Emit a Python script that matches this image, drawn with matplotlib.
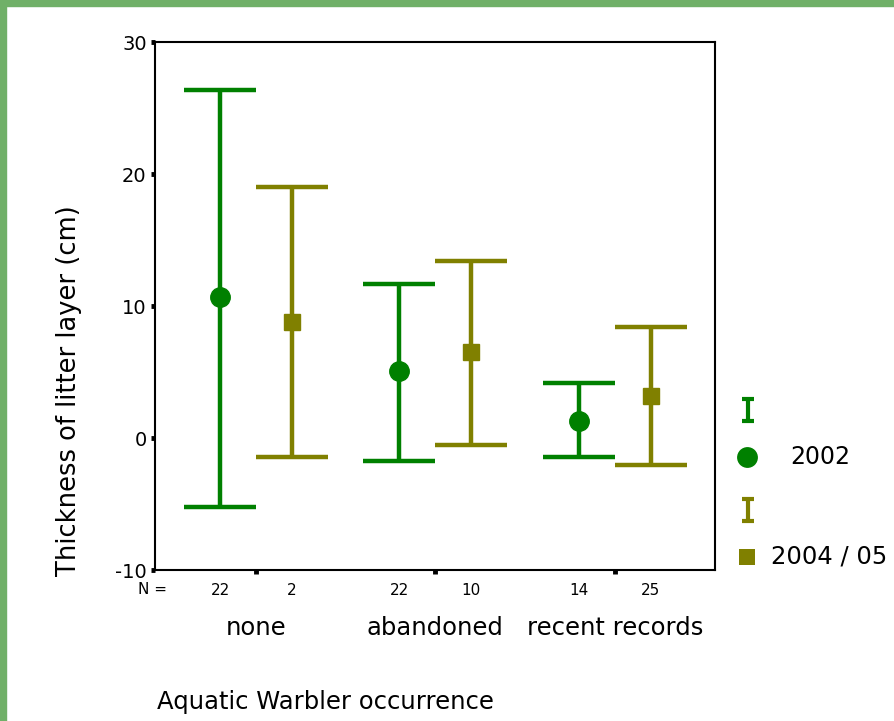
import matplotlib
matplotlib.use('Agg')
import matplotlib.pyplot as plt
from matplotlib.patches import Rectangle

plt.rcParams['axes.unicode_minus'] = False

# group labels and sample sizes
categories = ['none', 'abandoned', 'recent records']
years = ['2002', '2004 / 05']
n_2002 = [22, 22, 14]
n_2004 = [2, 10, 25]

# means with 95% CI bounds (cm)
mean_2002 = [10.66, 5.05, 1.26]
low_2002 = [-5.21, -1.72, -1.42]
high_2002 = [26.38, 11.68, 4.19]

mean_2004 = [8.76, 6.49, 3.15]
low_2004 = [-1.42, -0.56, -2.02]
high_2004 = [19.00, 13.39, 8.39]

GREEN = '#008000'
OLIVE = '#808000'


def draw_group(ax, xs, means, lows, highs, color, marker, msize):
    yerr = [[m - lo for m, lo in zip(means, lows)],
            [hi - m for m, hi in zip(means, highs)]]
    ax.errorbar(xs, means, yerr=yerr, fmt=marker, color=color,
                ecolor=color, elinewidth=3.2, capsize=26, capthick=3.2,
                markersize=msize, markeredgecolor=color, zorder=3)


def main():
    fig = plt.figure(figsize=(8.94, 7.21), dpi=100)
    ax = fig.add_axes([155 / 894, 1 - 570 / 721, 560 / 894, 528 / 721])

    pos = [1, 2, 3]
    off = 0.2
    x02 = [p - off for p in pos]
    x04 = [p + off for p in pos]
    draw_group(ax, x02, mean_2002, low_2002, high_2002, GREEN, 'o', 14)
    draw_group(ax, x04, mean_2004, low_2004, high_2004, OLIVE, 's', 11)

    ax.set_xlim(0.437, 3.559)
    ax.set_ylim(-10, 30)
    ax.set_yticks([-10, 0, 10, 20, 30])
    ax.set_xticks(pos)
    ax.set_xticklabels([])
    ax.tick_params(axis='both', direction='out', length=3, width=3.5,
                   labelsize=14, pad=3)
    for s in ax.spines.values():
        s.set_linewidth(1.5)

    # N labels and category names under the axis
    tr = ax.get_xaxis_transform()
    for x, n in zip(x02 + x04, n_2002 + n_2004):
        ax.text(x, -0.038, str(n), transform=tr, ha='center', va='center',
                fontsize=11)
    for p, c in zip(pos, categories):
        ax.text(p, -0.11, c, transform=tr, ha='center', va='center',
                fontsize=17.5)
    fig.text(153 / 894, 1 - 590 / 721, 'N =', ha='center', va='center',
             fontsize=11)

    fig.text(69 / 894, 1 - 391 / 721, 'Thickness of litter layer (cm)',
             rotation=90, ha='center', va='center', fontsize=18.5)
    fig.text(157 / 894, 1 - 702 / 721, 'Aquatic Warbler occurrence',
             ha='left', va='center', fontsize=17.5)

    # legend drawn in a pixel-coordinate overlay
    lax = fig.add_axes([0, 0, 1, 1], zorder=-1)
    lax.set_xlim(0, 894)
    lax.set_ylim(721, 0)
    lax.axis('off')
    lax.errorbar([748], [410], yerr=[[11], [11]], fmt='none', ecolor=GREEN,
                 elinewidth=3, capsize=4, capthick=3)
    lax.plot([747], [457], 'o', color=GREEN, markersize=15, mew=0)
    lax.text(790, 457, years[0], ha='left', va='center', fontsize=17)
    lax.errorbar([748], [510], yerr=[[11], [11]], fmt='none', ecolor=OLIVE,
                 elinewidth=3, capsize=4, capthick=3)
    lax.plot([747], [557], 's', color=OLIVE, markersize=12, mew=0)
    lax.text(771, 557, years[1], ha='left', va='center', fontsize=17.5)

    # green frame on top and left edges
    fig.patches.append(Rectangle((0, 1 - 6 / 721), 1, 6 / 721,
                                 transform=fig.transFigure,
                                 color='#70b068', zorder=10))
    fig.patches.append(Rectangle((0, 0), 6 / 894, 1,
                                 transform=fig.transFigure,
                                 color='#70b068', zorder=10))

    fig.savefig('out.png', dpi=100)


if __name__ == "__main__":
    main()
